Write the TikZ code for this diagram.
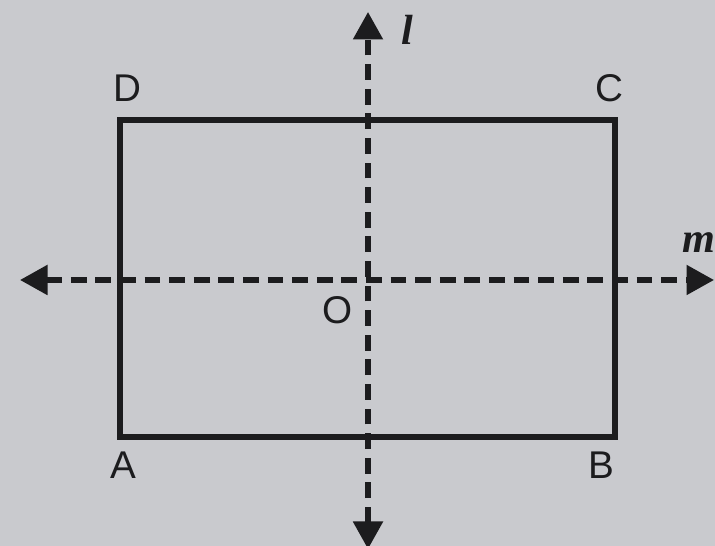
\documentclass[tikz,border=0pt]{standalone}
\usepackage{fontspec}
\setmainfont{Liberation Sans}
\newfontfamily\axisfont{Liberation Serif}
\usetikzlibrary{arrows.meta}
\definecolor{paper}{RGB}{201,202,206}
\definecolor{ink}{RGB}{28,28,30}
\tikzset{
  side/.style={ink, line width=3pt},
  axis/.style={ink, line width=3pt, dash pattern=on 9pt off 5pt,
    {Triangle[length=0.55cm,width=0.58cm]}-{Triangle[length=0.55cm,width=0.58cm]}},
  vertex/.style={ink, font=\fontsize{22}{26}\selectfont},
  axisname/.style={ink, font=\axisfont\bfseries\itshape\fontsize{24}{28}\selectfont}
}
\begin{document}
\begin{tikzpicture}
\fill[paper] (0,0) rectangle (14.3,10.92);
\useasboundingbox (0,0) rectangle (14.3,10.92);
% corners:
\coordinate (A) at (2.4,2.18);
\coordinate (B) at (12.3,2.18);
\coordinate (C) at (12.3,8.52);
\coordinate (D) at (2.4,8.52);
% axis ends:
\coordinate (ltop) at (7.36,10.68);
\coordinate (lbot) at (7.36,-0.06);
\coordinate (mleft) at (0.4,5.32);
\coordinate (mright) at (14.28,5.32);
% rectangle:
\draw[side] (A) -- (B) -- (C) -- (D) -- cycle;
% lines of symmetry:
\draw[axis] (lbot) -- (ltop);
\draw[axis] (mleft) -- (mright);
% labels:
\node[vertex] (labA) at (2.46,1.62) {A};
\node[vertex] (labB) at (12.02,1.62) {B};
\node[vertex] (labC) at (12.18,9.16) {C};
\node[vertex] (labD) at (2.54,9.16) {D};
\node[vertex] (labO) at (6.76,4.72) {O};
\node[axisname] (labl) at (8.14,10.32) {l};
\node[axisname] (labm) at (13.98,6.06) {m};
\end{tikzpicture}
\end{document}
